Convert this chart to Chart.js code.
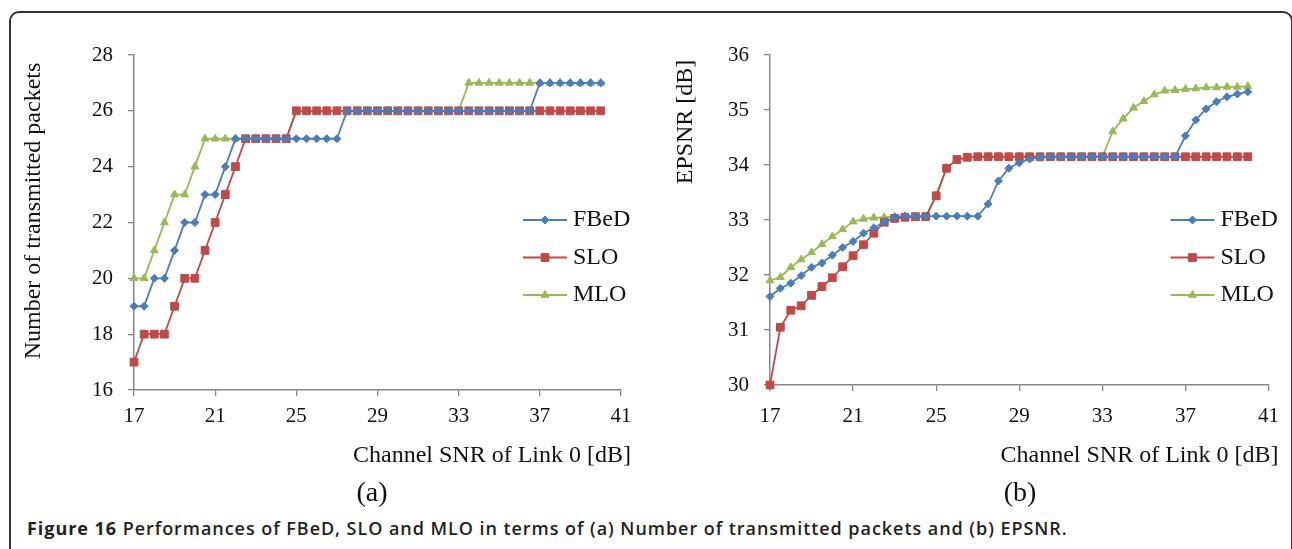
<!DOCTYPE html>
<html>
<head>
<meta charset="utf-8">
<script src="https://cdn.jsdelivr.net/npm/chart.js@4.4.1/dist/chart.umd.min.js"></script>
<style>
  body { margin:0; background:#fff; width:1292px; height:549px; overflow:hidden; position:relative; }
  #frame { position:absolute; left:9px; top:11px; width:1284px; height:600px; border:2px solid #333; border-radius:10px; box-sizing:border-box; }
  canvas { position:absolute; top:0; }
  #chartA { left:0; }
  #chartB { left:650px; }
  .sub { position:absolute; font-family:"Liberation Serif", serif; font-size:28px; line-height:28px; color:#111; transform:translateX(-50%); }
  #caption { position:absolute; left:27px; top:519px; font-family:"Open Sans", sans-serif; font-size:18px; line-height:18px; letter-spacing:0.95px; color:#231f20; white-space:nowrap; font-weight:600; }
  #caption b { font-weight:700; }
</style>
</head>
<body>
<div id="frame"></div>
<canvas id="chartA" width="648" height="480"></canvas>
<canvas id="chartB" width="642" height="480"></canvas>
<div class="sub" style="left:372px; top:478px;">(a)</div>
<div class="sub" style="left:1020px; top:478px;">(b)</div>
<div id="caption"><b>Figure 16</b> Performances of FBeD, SLO and MLO in terms of (a) Number of transmitted packets and (b) EPSNR.</div>
<script>
// data
const snr = [17, 17.5, 18, 18.5, 19, 19.5, 20, 20.5, 21, 21.5, 22, 22.5, 23, 23.5, 24, 24.5,
  25, 25.5, 26, 26.5, 27, 27.5, 28, 28.5, 29, 29.5, 30, 30.5, 31, 31.5, 32, 32.5,
  33, 33.5, 34, 34.5, 35, 35.5, 36, 36.5, 37, 37.5, 38, 38.5, 39, 39.5, 40];

// (a) number of transmitted packets
const packetsFBeD = [19, 19, 20, 20, 21, 22, 22, 23, 23, 24, 25, 25, 25, 25, 25, 25,
  25, 25, 25, 25, 25, 26, 26, 26, 26, 26, 26, 26, 26, 26, 26, 26,
  26, 26, 26, 26, 26, 26, 26, 26, 27, 27, 27, 27, 27, 27, 27];
const packetsSLO = [17, 18, 18, 18, 19, 20, 20, 21, 22, 23, 24, 25, 25, 25, 25, 25,
  26, 26, 26, 26, 26, 26, 26, 26, 26, 26, 26, 26, 26, 26, 26, 26,
  26, 26, 26, 26, 26, 26, 26, 26, 26, 26, 26, 26, 26, 26, 26];
const packetsMLO = [20, 20, 21, 22, 23, 23, 24, 25, 25, 25, 25, 25, 25, 25, 25, 25,
  26, 26, 26, 26, 26, 26, 26, 26, 26, 26, 26, 26, 26, 26, 26, 26,
  26, 27, 27, 27, 27, 27, 27, 27, 27, 27, 27, 27, 27, 27, 27];

// (b) EPSNR [dB]
const epsnrFBeD = [31.61, 31.76, 31.85, 31.99, 32.14, 32.22, 32.36, 32.50, 32.61, 32.76, 32.86, 32.96, 33.05, 33.07, 33.07, 33.07,
  33.07, 33.07, 33.07, 33.07, 33.07, 33.29, 33.71, 33.94, 34.04, 34.11, 34.14, 34.15, 34.15, 34.15, 34.15, 34.15,
  34.15, 34.15, 34.15, 34.15, 34.15, 34.15, 34.15, 34.15, 34.53, 34.82, 35.02, 35.15, 35.24, 35.29, 35.33];
const epsnrSLO = [30.00, 31.05, 31.36, 31.44, 31.63, 31.79, 31.95, 32.15, 32.35, 32.55, 32.76, 32.96, 33.03, 33.05, 33.06, 33.06,
  33.44, 33.94, 34.10, 34.14, 34.15, 34.15, 34.15, 34.15, 34.15, 34.15, 34.15, 34.15, 34.15, 34.15, 34.15, 34.15,
  34.15, 34.15, 34.15, 34.15, 34.15, 34.15, 34.15, 34.15, 34.15, 34.15, 34.15, 34.15, 34.15, 34.15, 34.15];
const epsnrMLO = [31.90, 31.96, 32.14, 32.28, 32.41, 32.56, 32.70, 32.83, 32.97, 33.02, 33.04, 33.05, 33.06, 33.06, 33.06, 33.06,
  33.44, 33.95, 34.10, 34.14, 34.15, 34.15, 34.15, 34.15, 34.15, 34.15, 34.15, 34.15, 34.15, 34.15, 34.15, 34.15,
  34.15, 34.61, 34.84, 35.04, 35.16, 35.28, 35.35, 35.36, 35.38, 35.39, 35.41, 35.41, 35.42, 35.42, 35.43];

const xTicks = [17, 21, 25, 29, 33, 37, 41];
const packetTicks = [16, 18, 20, 22, 24, 26, 28];
const epsnrTicks = [30, 31, 32, 33, 34, 35, 36];

const axisGrey = "#878787";
const textColor = "#111";
const serif = '"Liberation Serif", "Times New Roman", serif';

Chart.defaults.font.family = serif;
Chart.defaults.color = textColor;

function series(label, values, color, style, radius) {
    return {
        label: label,
        data: snr.map((x, i) => ({ x: x, y: values[i] })),
        borderColor: color,
        backgroundColor: color,
        pointBackgroundColor: color,
        pointBorderColor: color,
        pointStyle: style,
        pointRadius: radius,
        pointBorderWidth: 1,
        borderWidth: 1.8,
        tension: 0,
        clip: false
    };
}

// legend drawn inside the plot, like the original
const boxLegend = {
    id: "boxLegend",
    afterDraw(chart) {
        const { ctx, chartArea } = chart;
        ctx.save();
        chart.data.datasets.forEach((ds, i) => {
            const y = chartArea.top + 165 + i * 37.5;
            const x0 = chartArea.right - 98;
            ctx.strokeStyle = ds.borderColor;
            ctx.lineWidth = ds.borderWidth;
            ctx.beginPath();
            ctx.moveTo(x0, y);
            ctx.lineTo(x0 + 44, y);
            ctx.stroke();
            ctx.fillStyle = ds.pointBackgroundColor;
            ctx.lineWidth = 1;
            Chart.helpers.drawPoint(ctx, { pointStyle: ds.pointStyle, radius: ds.pointRadius, borderWidth: 1, rotation: 0 }, x0 + 22, y);
            ctx.fillStyle = textColor;
            ctx.font = "24px " + serif;
            ctx.textAlign = "left";
            ctx.textBaseline = "middle";
            ctx.fillText(ds.label, x0 + 50, y);
        });
        ctx.restore();
    }
};

// axis titles placed where the original has them
const axisText = {
    id: "axisText",
    afterDraw(chart, args, opts) {
        const { ctx, chartArea } = chart;
        ctx.save();
        ctx.fillStyle = textColor;
        ctx.font = "24px " + serif;
        ctx.textAlign = "right";
        ctx.textBaseline = "alphabetic";
        ctx.fillText(opts.x, chartArea.right + 10, 462);
        ctx.translate(opts.yLeft, opts.yMid);
        ctx.rotate(-Math.PI / 2);
        ctx.textAlign = "center";
        ctx.textBaseline = "middle";
        ctx.fillText(opts.y, 0, 0);
        ctx.restore();
    }
};

function makeChart(id, sets, yTicks, o) {
    return new Chart(document.getElementById(id), {
        type: "line",
        data: { datasets: sets },
        options: {
            responsive: false,
            animation: false,
            devicePixelRatio: 1,
            layout: { padding: { top: 55, right: o.right, left: 0, bottom: 0 } },
            plugins: {
                legend: { display: false },
                tooltip: { enabled: false },
                axisText: { x: "Channel SNR of Link 0 [dB]", y: o.title, yLeft: o.titleX, yMid: o.titleY }
            },
            scales: {
                x: {
                    type: "linear",
                    min: 17,
                    max: 41,
                    afterBuildTicks: s => { s.ticks = xTicks.map(v => ({ value: v })); },
                    afterFit: s => { s.height = o.xHeight; },
                    grid: { drawOnChartArea: false, tickLength: 6, color: axisGrey, lineWidth: 1.3 },
                    border: { color: axisGrey, width: 1.5 },
                    ticks: { padding: o.xPad, font: { size: 21 }, color: textColor, maxRotation: 0, autoSkip: false }
                },
                y: {
                    min: yTicks[0],
                    max: yTicks[yTicks.length - 1],
                    afterBuildTicks: s => { s.ticks = yTicks.map(v => ({ value: v })); },
                    afterFit: s => { s.width = o.yWidth; },
                    grid: { drawOnChartArea: false, tickLength: 6, color: axisGrey, lineWidth: 1.3 },
                    border: { color: axisGrey, width: 1.5 },
                    ticks: { padding: 15, font: { size: 21 }, color: textColor }
                }
            }
        },
        plugins: [boxLegend, axisText]
    });
}

const blue = "#4A7EBB", red = "#BE4B48", green = "#98B954";

makeChart("chartA", [
    series("FBeD", packetsFBeD, blue, "rectRot", 4),
    series("SLO", packetsSLO, red, "rect", 5.5),
    series("MLO", packetsMLO, green, "triangle", 4.5)
], packetTicks, { right: 27, xHeight: 90, xPad: 8, yWidth: 134, title: "Number of transmitted packets", titleX: 34, titleY: 211 });

makeChart("chartB", [
    series("FBeD", epsnrFBeD, blue, "rectRot", 4),
    series("SLO", epsnrSLO, red, "rect", 5.5),
    series("MLO", epsnrMLO, green, "triangle", 4.5)
], epsnrTicks, { right: 22, xHeight: 95, xPad: 13, yWidth: 120, title: "EPSNR [dB]", titleX: 36, titleY: 122 });
</script>
</body>
</html>
